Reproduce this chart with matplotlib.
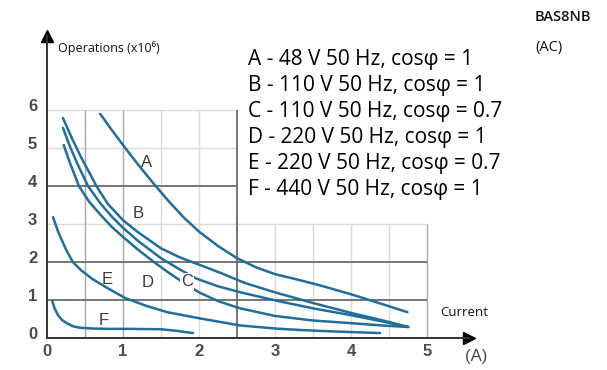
import matplotlib
matplotlib.use("Agg")
import matplotlib.pyplot as plt
import matplotlib.transforms as mtransforms

# curves: current (A) -> operations (x10^6)
a_x = [0.70, 0.85, 1.03, 1.2, 1.4, 1.6, 1.8, 2.0, 2.25, 2.5, 2.75, 3.0, 3.33, 3.6, 4.0, 4.35, 4.74]
a_y = [5.9, 5.48, 5.0, 4.56, 4.07, 3.6, 3.17, 2.8, 2.42, 2.1, 1.86, 1.68, 1.52, 1.38, 1.15, 0.93, 0.68]

b_x = [0.21, 0.33, 0.45, 0.55, 0.65, 0.8, 1.0, 1.2, 1.5, 1.75, 2.0, 2.3, 2.6, 3.0, 3.5, 4.0, 4.4, 4.75]
b_y = [5.79, 5.25, 4.75, 4.38, 4.0, 3.53, 3.1, 2.78, 2.36, 2.12, 1.93, 1.7, 1.45, 1.2, 0.92, 0.66, 0.47, 0.29]

c_x = [0.21, 0.3, 0.42, 0.54, 0.7, 0.85, 1.0, 1.2, 1.5, 1.75, 1.97, 2.25, 2.55, 3.0, 3.5, 4.0, 4.4, 4.75]
c_y = [5.53, 5.05, 4.5, 4.0, 3.55, 3.2, 2.9, 2.55, 2.1, 1.8, 1.56, 1.36, 1.2, 0.99, 0.78, 0.6, 0.44, 0.29]

d_x = [0.22, 0.3, 0.42, 0.55, 0.7, 0.85, 1.0, 1.2, 1.42, 1.6, 1.8, 2.0, 2.25, 2.54, 3.0, 3.5, 4.0, 4.4, 4.75]
d_y = [5.08, 4.62, 4.0, 3.6, 3.25, 2.93, 2.66, 2.32, 1.98, 1.72, 1.45, 1.2, 0.97, 0.78, 0.58, 0.46, 0.39, 0.33, 0.29]

e_x = [0.08, 0.15, 0.25, 0.34, 0.45, 0.6, 0.79, 1.03, 1.3, 1.58, 2.0, 2.54, 3.0, 3.33, 3.8, 4.38]
e_y = [3.18, 2.78, 2.33, 2.0, 1.78, 1.55, 1.32, 1.05, 0.85, 0.68, 0.52, 0.33, 0.25, 0.21, 0.17, 0.13]

f_x = [0.07, 0.1, 0.145, 0.2, 0.26, 0.34, 0.43, 0.6, 0.8, 1.1, 1.5, 1.7, 1.92]
f_y = [0.97, 0.78, 0.6, 0.47, 0.39, 0.31, 0.27, 0.25, 0.24, 0.24, 0.23, 0.19, 0.13]

curve_names = ["A", "B", "C", "D", "E", "F"]
label_pos = {"A": (1.31, 4.63), "B": (1.2, 3.29), "C": (1.84, 1.48),
             "D": (1.33, 1.47), "E": (0.79, 1.53), "F": (0.74, 0.47)}

legend_lines = [
    "A - 48 V 50 Hz, cos\u03c6 = 1",
    "B - 110 V 50 Hz, cos\u03c6 = 1",
    "C - 110 V 50 Hz, cos\u03c6 = 0.7",
    "D - 220 V 50 Hz, cos\u03c6 = 1",
    "E - 220 V 50 Hz, cos\u03c6 = 0.7",
    "F - 440 V 50 Hz, cos\u03c6 = 1",
]

x_ticks = [0, 1, 2, 3, 4, 5]
y_ticks = [0, 1, 2, 3, 4, 5, 6]

blue = "#1f6e9c"
grey = "#3a3a3a"

fig = plt.figure(figsize=(6.07, 3.70), dpi=100)
ax = fig.add_axes([0.0774, 0.0865, 0.6953, 0.8162])
ax.set_xlim(0, 5.55)
ax.set_ylim(0, 7.95)

# grid, drawn piece by piece like the printed chart
faint = dict(color="#e0dad2", lw=1.0, zorder=1)
ax.hlines([3], 0, 5, **faint)
ax.hlines([5, 6], 0, 2.5, **faint)
ax.vlines([1.5, 2], 0, 6, **faint)
ax.vlines([3, 3.5, 4, 4.5], 0, 3, **faint)
ax.vlines([0.5, 1], 0, 6, color="#a8a8a8", lw=1.0, zorder=1)
ax.vlines([5], 0, 3, color="#a8a8a8", lw=1.0, zorder=1)
dark = dict(color="#6a6a6a", lw=1.3, zorder=2)
ax.hlines([1, 2], 0, 5, **dark)
ax.hlines([4], 0, 2.5, **dark)
ax.vlines([2.5], 0, 6, **dark)

series = [(a_x, a_y), (b_x, b_y), (c_x, c_y), (d_x, d_y), (e_x, e_y), (f_x, f_y)]
for name, (xs, ys) in zip(curve_names, series):
    ax.plot(xs, ys, color=blue, lw=1.8, zorder=3, solid_capstyle="round",
            solid_joinstyle="round")
    lx, ly = label_pos[name]
    box = dict(boxstyle="square,pad=0.05", fc="white", ec="none") if name == "C" else None
    ax.text(lx, ly, name, fontsize=12, color=grey, family="Liberation Sans",
            ha="center", va="center", zorder=4, bbox=box)

# axes with arrow heads
for s in ["top", "right"]:
    ax.spines[s].set_visible(False)
for s in ["left", "bottom"]:
    ax.spines[s].set_color("#333333")
    ax.spines[s].set_linewidth(1.4)
ax.plot(0, 1, marker="^", ms=9, color="black", transform=ax.transAxes, clip_on=False)
ax.plot(1, 0, marker=">", ms=9, color="black", transform=ax.transAxes, clip_on=False)

ax.set_xticks(x_ticks)
ax.set_yticks(y_ticks)
ax.tick_params(length=0, labelsize=12, labelcolor="#4a4a4a")
ax.tick_params(axis="x", pad=4)
ax.tick_params(axis="y", pad=7)
for lab in ax.get_xticklabels() + ax.get_yticklabels():
    lab.set_family("Liberation Sans")
    lab.set_weight("bold")
offset = mtransforms.ScaledTranslation(0, 5 / 100, fig.dpi_scale_trans)
for lab in ax.get_yticklabels():
    lab.set_transform(lab.get_transform() + offset)

fig.text(58 / 607, 1 - 48 / 370, "Operations (x10\u2076)", fontsize=9,
         family=["Open Sans", "DejaVu Sans"], va="center", ha="left", color="#111111")
fig.text(440 / 607, 1 - 312 / 370, "Current", fontsize=9.5, family="Open Sans",
         va="center", ha="left", color="#111111")
fig.text(476 / 607, 1 - 356 / 370, "(A)", fontsize=12, family="Liberation Sans",
         va="center", ha="center", color="#4a4a4a")
fig.text(535 / 607, 1 - 17 / 370, "BAS8NB", fontsize=10.5, family="Open Sans",
         weight="semibold", va="center", ha="left", color="#111111")
fig.text(535 / 607, 1 - 47 / 370, "(AC)", fontsize=10.5, family="Open Sans",
         va="center", ha="left", color="#111111")

# legend block with white backing
for i, line in enumerate(legend_lines):
    fig.text(248 / 607, 1 - (60 + 26 * i) / 370, line, fontsize=15,
             family=["Open Sans", "DejaVu Sans"], va="center", ha="left", color="black",
             bbox=dict(boxstyle="square,pad=0.2", fc="white", ec="none"))

fig.savefig("out.png", dpi=100)
